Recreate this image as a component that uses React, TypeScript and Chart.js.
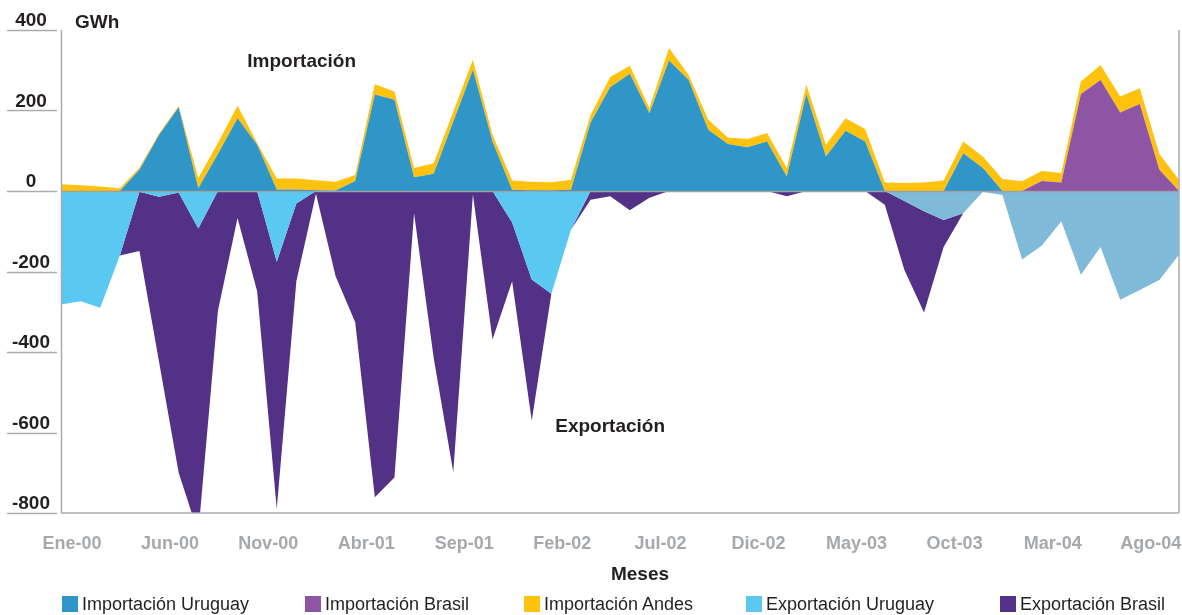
import React, { useEffect, useRef } from 'react';
import { Chart, registerables } from 'chart.js';

Chart.register(...registerables);

// ---- Categories ----
const months = [
  'Ene-00', 'Feb-00', 'Mar-00', 'Abr-00', 'May-00', 'Jun-00', 'Jul-00', 'Ago-00', 'Sep-00', 'Oct-00', 'Nov-00', 'Dic-00',
  'Ene-01', 'Feb-01', 'Mar-01', 'Abr-01', 'May-01', 'Jun-01', 'Jul-01', 'Ago-01', 'Sep-01', 'Oct-01', 'Nov-01', 'Dic-01',
  'Ene-02', 'Feb-02', 'Mar-02', 'Abr-02', 'May-02', 'Jun-02', 'Jul-02', 'Ago-02', 'Sep-02', 'Oct-02', 'Nov-02', 'Dic-02',
  'Ene-03', 'Feb-03', 'Mar-03', 'Abr-03', 'May-03', 'Jun-03', 'Jul-03', 'Ago-03', 'Sep-03', 'Oct-03', 'Nov-03', 'Dic-03',
  'Ene-04', 'Feb-04', 'Mar-04', 'Abr-04', 'May-04', 'Jun-04', 'Jul-04', 'Ago-04', 'Sep-04', 'Oct-04',
];

// Month labels printed on the x axis
const tickLabels = ['Ene-00', 'Jun-00', 'Nov-00', 'Abr-01', 'Sep-01', 'Feb-02', 'Jul-02', 'Dic-02', 'May-03', 'Oct-03', 'Mar-04', 'Ago-04'];

// ---- Series (GWh) ----
const importacionUruguay = [
  0, 0, 0, 0, 53, 139, 208, 7, 92, 181,
  115, 4, 4, 2, 1, 25, 240, 227, 34, 43,
  172, 301, 123, 3, 2, 2, 3, 170, 258, 291,
  193, 324, 276, 152, 117, 109, 123, 36, 241, 86,
  150, 123, 0, 0, 0, 0, 94, 57, 0, 0,
  0, 0, 0, 0, 0, 0, 0, 0,
];

const importacionBrasil = [
  0, 0, 0, 0, 0, 0, 0, 0, 0, 0,
  0, 0, 0, 0, 0, 0, 0, 0, 0, 0,
  0, 0, 0, 0, 0, 0, 0, 0, 0, 0,
  0, 0, 0, 0, 0, 0, 0, 0, 0, 0,
  0, 0, 0, 0, 0, 0, 0, 0, 0, 0,
  25, 21, 241, 276, 195, 216, 53, 0,
];

const importacionAndes = [
  17, 14, 11, 7, 5, 4, 3, 25, 27, 31,
  4, 27, 27, 25, 22, 15, 25, 20, 23, 26,
  25, 25, 17, 23, 21, 20, 25, 19, 25, 20,
  13, 31, 12, 25, 16, 20, 21, 21, 23, 29,
  31, 31, 21, 20, 21, 26, 29, 29, 30, 24,
  25, 24, 31, 37, 40, 39, 39, 28,
];

const exportacionUruguay = [
  -282, -274, -290, -160, -2, -14, -4, -93, 0, 0,
  0, -176, -31, 0, 0, 0, 0, 0, 0, 0,
  0, 0, 0, -78, -220, -255, -96, 0, 0, 0,
  0, 0, 0, 0, 0, 0, 0, 0, 0, 0,
  0, 0, 0, -25, -50, -72, -55, -2, -10, -170,
  -136, -75, -208, -139, -270, -246, -221, -158,
];

const exportacionBrasil = [
  0, 0, 0, 0, -147, -411, -696, -757, -298, -67,
  -249, -614, -193, -7, -212, -326, -761, -712, -55, -414,
  -699, -9, -369, -146, -351, 0, 0, -22, -13, -48,
  -17, 0, 0, 0, 0, 0, 0, -13, 0, 0,
  0, 0, -34, -171, -252, -67, 0, 0, 0, 0,
  0, 0, 0, 0, 0, 0, 0, 0,
];

// ---- Styling ----
const FONT = '"Liberation Sans", Arial, Helvetica, sans-serif';
const DARK = '#231f20';
const AXIS_GREY = '#a9acb0';
const TICK_GREY = '#a5a9ae';

const COLOR_IMP_URU = '#3095c7';
const COLOR_IMP_BRA = '#8d55a3';
const COLOR_IMP_AND = '#ffc20e';
const COLOR_EXP_URU = '#5bc8f2';
const COLOR_EXP_URU_LATE = '#7fbad8';
const COLOR_EXP_BRA = '#523186';

const legendItems = [
  { label: 'Importación Uruguay', color: COLOR_IMP_URU },
  { label: 'Importación Brasil', color: COLOR_IMP_BRA },
  { label: 'Importación Andes', color: COLOR_IMP_AND },
  { label: 'Exportación Uruguay', color: COLOR_EXP_URU },
  { label: 'Exportación Brasil', color: COLOR_EXP_BRA },
];
const legendLeft = [62, 305, 524, 746, 1000];

const decorPlugin = {
  id: 'decor',
  afterDatasetsDraw(chart: any) {
    const { ctx, chartArea: a, scales } = chart;
    const x = scales.x;
    const y = scales.y;
    const line = (x1: number, y1: number, x2: number, y2: number) => {
      ctx.beginPath();
      ctx.moveTo(x1, y1);
      ctx.lineTo(x2, y2);
      ctx.stroke();
    };
    ctx.save();
    // zero line
    ctx.strokeStyle = '#9da0a4';
    ctx.lineWidth = 1.5;
    const y0 = Math.round(y.getPixelForValue(0)) + 0.5;
    line(a.left, y0, a.right, y0);
    // frame
    ctx.strokeStyle = AXIS_GREY;
    ctx.lineWidth = 1.5;
    line(a.left + 0.5, a.top, a.left + 0.5, a.bottom);
    line(a.left, a.bottom, a.right, a.bottom);
    line(a.right, a.top, a.right, a.bottom);
    // y tick marks (short lines left of the axis)
    y.ticks.forEach((t: any) => {
      const py = Math.round(y.getPixelForValue(t.value)) + 0.5;
      line(7, py, a.left - 4, py);
    });
    // texts
    ctx.fillStyle = DARK;
    ctx.font = `bold 19px ${FONT}`;
    ctx.textAlign = 'left';
    ctx.textBaseline = 'alphabetic';
    ctx.fillText('GWh', a.left + 14, a.top - 2);
    ctx.fillText('Importación', x.getPixelForValue(9.5), y.getPixelForValue(308));
    ctx.fillText('Exportación', x.getPixelForValue(25.2), y.getPixelForValue(-599));
    ctx.textAlign = 'center';
    ctx.fillText('Meses', 640, 580);
    ctx.restore();
  },
};

export default function App() {
  const canvasRef = useRef<HTMLCanvasElement>(null);

  useEffect(() => {
    const canvas = canvasRef.current;
    if (!canvas) return;
    const common = { borderWidth: 0, borderColor: 'transparent', pointRadius: 0, pointHoverRadius: 0, tension: 0 };
    const chart = new Chart(canvas, {
      type: 'line',
      data: {
        labels: months,
        datasets: [
          { ...common, label: 'Importación Uruguay', data: importacionUruguay, stack: 'imp', fill: 'origin', backgroundColor: COLOR_IMP_URU },
          { ...common, label: 'Importación Brasil', data: importacionBrasil, stack: 'imp', fill: '-1', backgroundColor: COLOR_IMP_BRA },
          { ...common, label: 'Importación Andes', data: importacionAndes, stack: 'imp', fill: '-1', backgroundColor: COLOR_IMP_AND },
          {
            ...common,
            label: 'Exportación Uruguay',
            data: exportacionUruguay,
            stack: 'exp',
            fill: 'origin',
            backgroundColor: COLOR_EXP_URU,
            segment: {
              backgroundColor: (c: any) => (c.p0DataIndex >= 40 ? COLOR_EXP_URU_LATE : COLOR_EXP_URU),
            },
          },
          { ...common, label: 'Exportación Brasil', data: exportacionBrasil, stack: 'exp', fill: '-1', backgroundColor: COLOR_EXP_BRA },
        ] as any,
      },
      options: {
        animation: false,
        responsive: false,
        maintainAspectRatio: false,
        layout: { padding: { left: 0, right: 3, top: 30, bottom: 0 } },
        plugins: {
          legend: { display: false },
          tooltip: { enabled: false },
        },
        scales: {
          x: {
            type: 'category',
            offset: false,
            grid: { display: false, drawTicks: false },
            border: { display: false },
            ticks: {
              autoSkip: false,
              maxRotation: 0,
              minRotation: 0,
              padding: 20,
              labelOffset: 11,
              color: TICK_GREY,
              font: { family: FONT, size: 18, weight: 'bold' },
              callback: (_v: any, i: number) => (tickLabels.includes(months[i]) ? months[i] : ''),
            },
            afterFit: (s: any) => {
              s.height = 102;
              s.paddingLeft = 0;
              s.paddingRight = 0;
            },
          },
          y: {
            type: 'linear',
            stacked: true,
            min: -800,
            max: 400,
            grid: { display: false, drawTicks: false },
            border: { display: false },
            ticks: {
              stepSize: 200,
              crossAlign: 'center',
              padding: 11,
              labelOffset: -9,
              color: DARK,
              font: { family: FONT, size: 19, weight: 'bold' },
            },
            afterFit: (s: any) => {
              s.width = 61;
              s.paddingTop = 0;
              s.paddingBottom = 0;
            },
          },
        },
      },
      plugins: [decorPlugin],
    } as any);
    return () => chart.destroy();
  }, []);

  return (
    <div style={{ position: 'fixed', left: 0, top: 0, width: 1182, height: 615, background: '#ffffff', fontFamily: FONT, overflow: 'hidden' }}>
      <canvas ref={canvasRef} width={1182} height={615} style={{ position: 'absolute', left: 0, top: 0, width: 1182, height: 615 }} />
      {legendItems.map((item, i) => (
        <div
          key={item.label}
          style={{ position: 'absolute', left: legendLeft[i], top: 595, height: 18, display: 'flex', alignItems: 'center', whiteSpace: 'nowrap' }}
        >
          <span style={{ display: 'inline-block', width: 16, height: 16, background: item.color, marginRight: 4 }} />
          <span style={{ fontSize: 18, lineHeight: '18px', color: DARK }}>{item.label}</span>
        </div>
      ))}
    </div>
  );
}
